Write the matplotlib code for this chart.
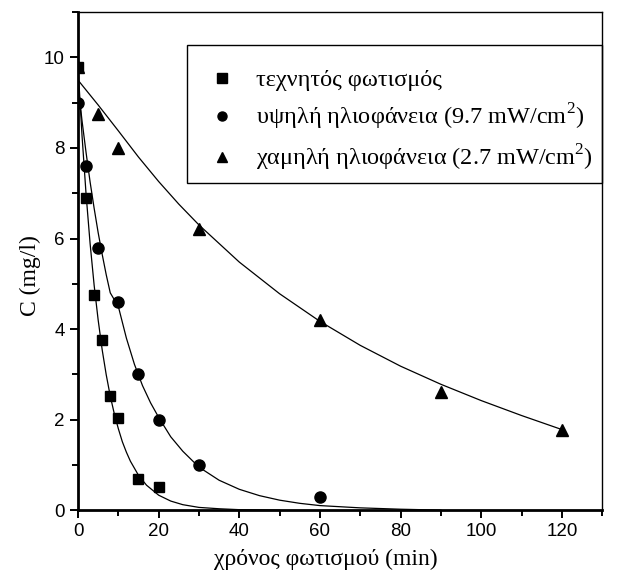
import matplotlib
matplotlib.use("Agg")
import matplotlib.pyplot as plt
from matplotlib.patches import Rectangle
from matplotlib.ticker import MultipleLocator

# measured points
t_art = [0, 2, 4, 6, 8, 10, 15, 20]
c_art = [9.8, 6.9, 4.75, 3.75, 2.53, 2.03, 0.68, 0.5]

t_high = [0, 2, 5, 10, 15, 20, 30, 60]
c_high = [9.0, 7.6, 5.8, 4.6, 3.0, 2.0, 1.0, 0.3]

t_low = [0, 5, 10, 30, 60, 90, 120]
c_low = [9.8, 8.75, 8.0, 6.2, 4.2, 2.6, 1.78]

# fitted curves
fit_t_art = [0, 1, 2, 3, 4, 5, 6, 7, 8, 9, 10, 11, 12, 13, 15, 17, 20, 23, 26, 30, 35, 40, 45, 50]
fit_c_art = [9.8, 8.27, 6.98, 5.89, 4.97, 4.2, 3.54, 2.99, 2.52, 2.13, 1.8, 1.51, 1.28, 1.08,
             0.77, 0.55, 0.33, 0.2, 0.12, 0.06, 0.03, 0.01, 0.005, 0.0]

fit_t_high = [0, 1, 2, 3, 4, 5, 6, 7, 8, 10, 12, 14, 16, 18, 20, 23, 26, 30, 35, 40, 45, 50, 55, 60,
              70, 80, 90]
fit_c_high = [9.4, 8.6, 7.9, 7.25, 6.67, 6.13, 5.65, 5.2, 4.8, 4.5, 3.8, 3.22, 2.75, 2.37, 2.05, 1.62,
              1.3, 0.95, 0.66, 0.46, 0.32, 0.22, 0.15, 0.1, 0.05, 0.02, 0.0]

fit_t_low = [0, 5, 10, 15, 20, 25, 30, 40, 50, 60, 70, 80, 90, 100, 110, 120]
fit_c_low = [9.5, 8.95, 8.38, 7.8, 7.26, 6.76, 6.3, 5.48, 4.78, 4.17, 3.64, 3.18, 2.78, 2.42, 2.09, 1.78]

labels = ["τεχνητός φωτισμός",
          "υψηλή ηλιοφάνεια (9.7 mW/cm$^{2}$)",
          "χαμηλή ηλιοφάνεια (2.7 mW/cm$^{2}$)"]

plt.rcParams["font.family"] = "Liberation Sans"
plt.rcParams["mathtext.fontset"] = "custom"
plt.rcParams["mathtext.rm"] = "Liberation Serif"
serif = "Liberation Serif"

fig = plt.figure(figsize=(6.24, 5.81), dpi=100)
ax = fig.add_axes([0.125, 0.122, 0.84, 0.857])

ax.plot(fit_t_art, fit_c_art, color="black", lw=0.9)
ax.plot(fit_t_high, fit_c_high, color="black", lw=0.9)
ax.plot(fit_t_low, fit_c_low, color="black", lw=0.9)

ax.plot(t_art, c_art, "s", color="black", ms=7.5, ls="none", label=labels[0])
ax.plot(t_high, c_high, "o", color="black", ms=8, ls="none", label=labels[1])
ax.plot(t_low, c_low, "^", color="black", ms=8.5, ls="none", label=labels[2])

ax.set_xlim(0, 130)
ax.set_ylim(0, 11)
ax.xaxis.set_major_locator(MultipleLocator(20))
ax.xaxis.set_minor_locator(MultipleLocator(10))
ax.yaxis.set_major_locator(MultipleLocator(2))
ax.yaxis.set_minor_locator(MultipleLocator(1))
ax.tick_params(which="major", direction="out", length=6, width=1.4, labelsize=13.5,
               top=False, right=False)
ax.tick_params(which="minor", direction="out", length=4, width=1.4, top=False, right=False)

ax.spines["left"].set_linewidth(2)
ax.spines["bottom"].set_linewidth(2)
ax.spines["top"].set_linewidth(1)
ax.spines["right"].set_linewidth(1)

ax.set_xlabel("χρόνος φωτισμού (min)", family=serif, fontsize=17, labelpad=6)
ax.set_ylabel("C (mg/l)", family=serif, fontsize=17, labelpad=2)
ax.xaxis.label.set_x(0.473)
ax.yaxis.label.set_y(0.472)

# legend box drawn separately so the rows sit where they do in the original
ax.add_patch(Rectangle((0.208, 0.657), 0.792, 0.277, transform=ax.transAxes, fill=False,
                       edgecolor="black", lw=1, zorder=5, clip_on=False))
leg = ax.legend(loc="center left", bbox_to_anchor=(0.2405, 0.781),
                prop={"family": serif, "size": 17.5}, frameon=False,
                handletextpad=0.65, labelspacing=0.45, borderpad=0,
                handlelength=1.5, borderaxespad=0)
for h in leg.legend_handles:
    h.set_markersize(6.5)

fig.savefig("out.png", dpi=100)
